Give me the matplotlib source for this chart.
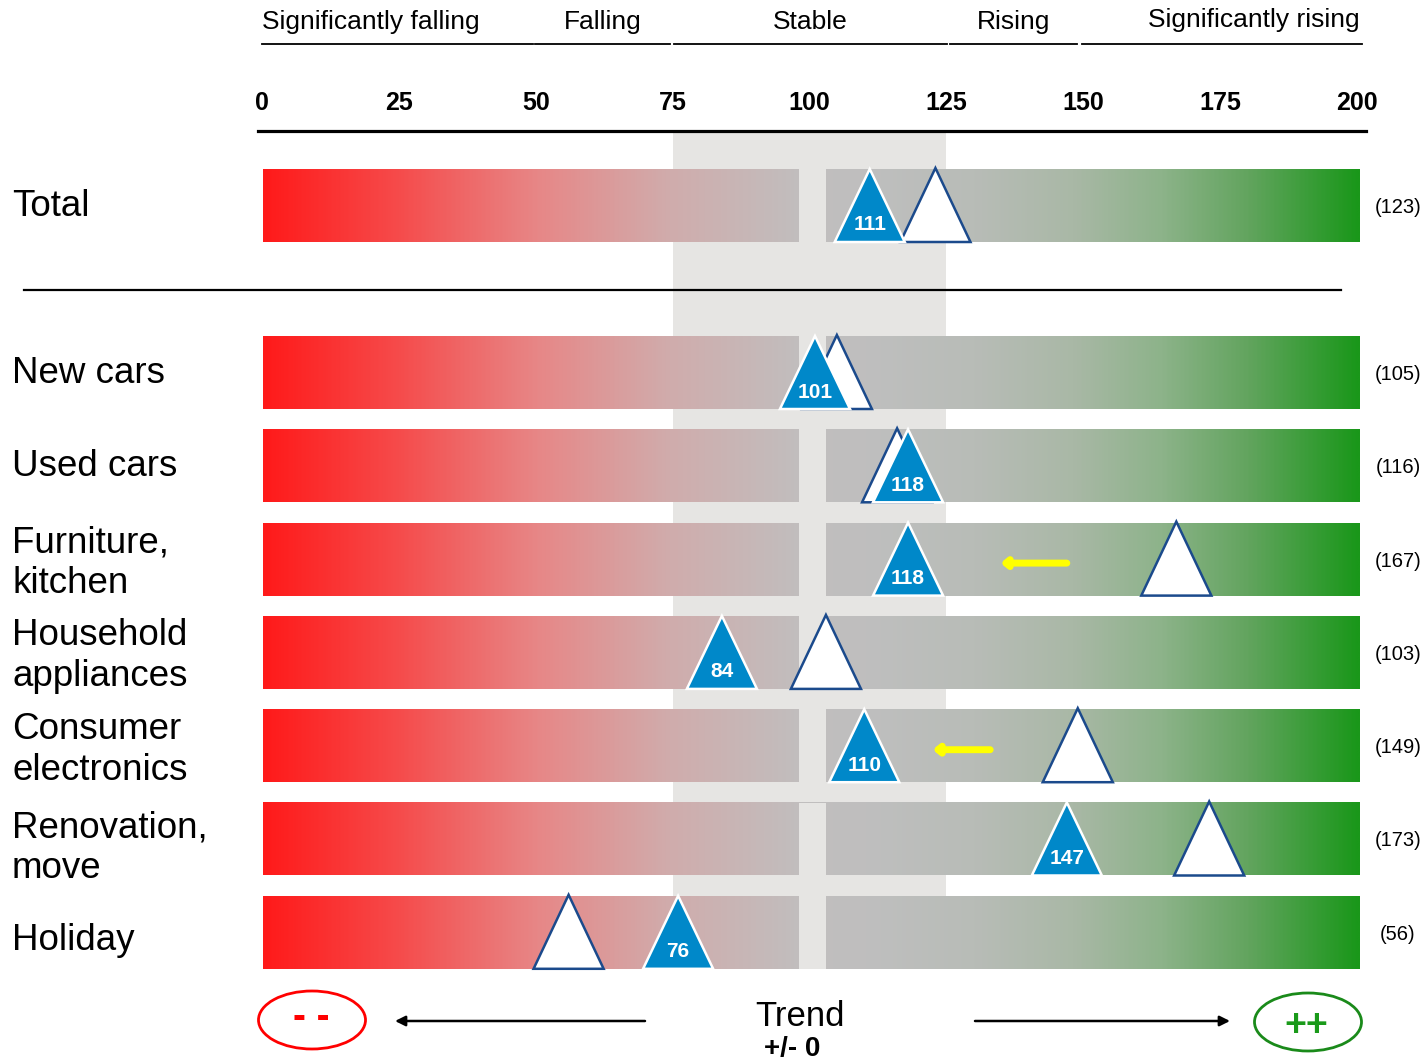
import numpy as np
import matplotlib
matplotlib.use("Agg")
import matplotlib.pyplot as plt
from matplotlib.colors import LinearSegmentedColormap
from matplotlib.patches import Polygon, Rectangle, Ellipse

plt.rcParams['font.family'] = ['Liberation Sans', 'DejaVu Sans']

# data
categories = ["Total", "New cars", "Used cars", "Furniture,\nkitchen", "Household\nappliances",
              "Consumer\nelectronics", "Renovation,\nmove", "Holiday"]
current = [111, 101, 118, 118, 84, 110, 147, 76]
previous = [123, 105, 116, 167, 103, 149, 173, 56]
# yellow trend arrows: (row index, from value, to value)
trend_arrows = [(3, 147, 134.9), (5, 133, 122.5)]
ticks = [0, 25, 50, 75, 100, 125, 150, 175, 200]
zones = ["Significantly falling", "Falling", "Stable", "Rising", "Significantly rising"]
zone_edges = [(0, 49.5), (49.8, 74.5), (75.2, 125.2), (125.6, 148.8), (149.7, 201.0)]

# layout helpers (figure in pixels, x axis in index values)
W, H = 1423, 1063
X0, SCALE = 262, 5.475
def px(x):
    return (x - X0) / SCALE

row_y = [205.5] + [372.5 + i * 93.3 for i in range(7)]
label_dy = [1, 1, 1, 1, 1, 1, 6, 8]
bar_h = 73
band_col = "#e6e5e3"
blue = "#0088c9"
navy = "#1b4a8c"

cmap = LinearSegmentedColormap.from_list("trend", [
    (0.00, "#ff1a1a"), (0.12, "#f64a4a"), (0.25, "#e78787"), (0.37, "#d0acac"),
    (0.49, "#c1bebe"), (0.55, "#bfbfbf"), (0.65, "#b8bcb7"), (0.74, "#a9b8a6"),
    (0.82, "#8db38a"), (0.90, "#62a45e"), (1.00, "#1a971a")])

fig = plt.figure(figsize=(W / 100, H / 100), dpi=100)
ax = fig.add_axes([0, 0, 1, 1])
ax.set_xlim(px(0), px(W))
ax.set_ylim(H, 0)
ax.axis("off")

# stable band
ax.add_patch(Rectangle((75, 133), 50, row_y[-1] + bar_h / 2 - 133, color=band_col, lw=0, zorder=0))

# header zones
for name, (a, b) in zip(zones, zone_edges):
    ax.plot([a, b], [44, 44], color="black", lw=1.3, zorder=2)
    if name == zones[0]:
        ax.text(a, 22, name, ha="left", va="center", fontsize=19)
    elif name == zones[-1]:
        ax.text(b - 0.5, 20, name, ha="right", va="center", fontsize=19)
    else:
        ax.text((a + b) / 2, 22, name, ha="center", va="center", fontsize=19)

# tick labels and axis line
for t in ticks:
    ax.text(t, 103, str(t), ha="center", va="center", fontsize=18, fontweight="bold")
ax.plot([px(258), px(1366)], [131, 131], color="black", lw=2.3, zorder=2)

# separator below Total
ax.plot([px(24), px(1341)], [290, 290], color="black", lw=1.6, zorder=2)

grad = np.linspace(0, 1, 512).reshape(1, -1)
for i, (cat, cur, prev, y) in enumerate(zip(categories, current, previous, row_y)):
    top, bot = y - bar_h / 2, y + bar_h / 2
    ax.imshow(grad, cmap=cmap, aspect="auto", extent=(0.2, 200.5, bot, top),
              interpolation="bilinear", zorder=1)
    ax.add_patch(Rectangle((98.1, top), 4.9, bar_h, color=band_col, lw=0, zorder=1.5))
    hw = 6.4
    ax.add_patch(Polygon([(prev - hw, bot), (prev, top - 1), (prev + hw, bot)], closed=True,
                         facecolor="white", edgecolor=navy, lw=1.8, zorder=3))
    ax.add_patch(Polygon([(cur - hw, bot), (cur, top), (cur + hw, bot)], closed=True,
                         facecolor=blue, edgecolor="white", lw=1.8, zorder=4))
    ax.text(cur, bot - 17, str(cur), ha="center", va="center", color="white",
            fontsize=15, fontweight="bold", zorder=5)
    ax.text(px(1398), y + 2, "(%d)" % prev, ha="center", va="center", fontsize=14.5)
    ax.text(px(12), y + label_dy[i] + (3 if "\n" in cat else 0), cat, ha="left", va="center",
            fontsize=26.5, linespacing=1.22)

for r, a, b in trend_arrows:
    ax.annotate("", xy=(b, row_y[r] + 4), xytext=(a, row_y[r] + 4),
                arrowprops=dict(arrowstyle="-|>,head_length=0.3,head_width=0.25",
                                color="#ffff00", lw=5, shrinkA=0, shrinkB=0), zorder=5)

# bottom legend
ax.add_patch(Ellipse((px(312), 1020), 107 / SCALE, 58, facecolor="none", edgecolor="#ff0000", lw=2))
ax.text(px(311), 1018, "- -", color="#ff0000", fontsize=28, fontweight="bold", ha="center", va="center")
ax.add_patch(Ellipse((px(1308), 1022), 107 / SCALE, 58, facecolor="none", edgecolor="#1a8a1a", lw=2))
ax.text(px(1306), 1026, "++", color="#1a9a1a", fontsize=27, fontweight="bold", ha="center", va="center")
ax.annotate("", xy=(px(395), 1021), xytext=(px(645), 1021),
            arrowprops=dict(arrowstyle="-|>,head_length=0.6,head_width=0.3", color="black", lw=1.8,
                            shrinkA=0, shrinkB=0))
ax.annotate("", xy=(px(1230), 1021), xytext=(px(975), 1021),
            arrowprops=dict(arrowstyle="-|>,head_length=0.6,head_width=0.3", color="black", lw=1.8,
                            shrinkA=0, shrinkB=0))
ax.text(px(800), 1017, "Trend", fontsize=25, ha="center", va="center")
ax.text(px(792), 1049, "+/- 0", fontsize=20, fontweight="bold", ha="center", va="center")

fig.savefig("out.png", dpi=100)
